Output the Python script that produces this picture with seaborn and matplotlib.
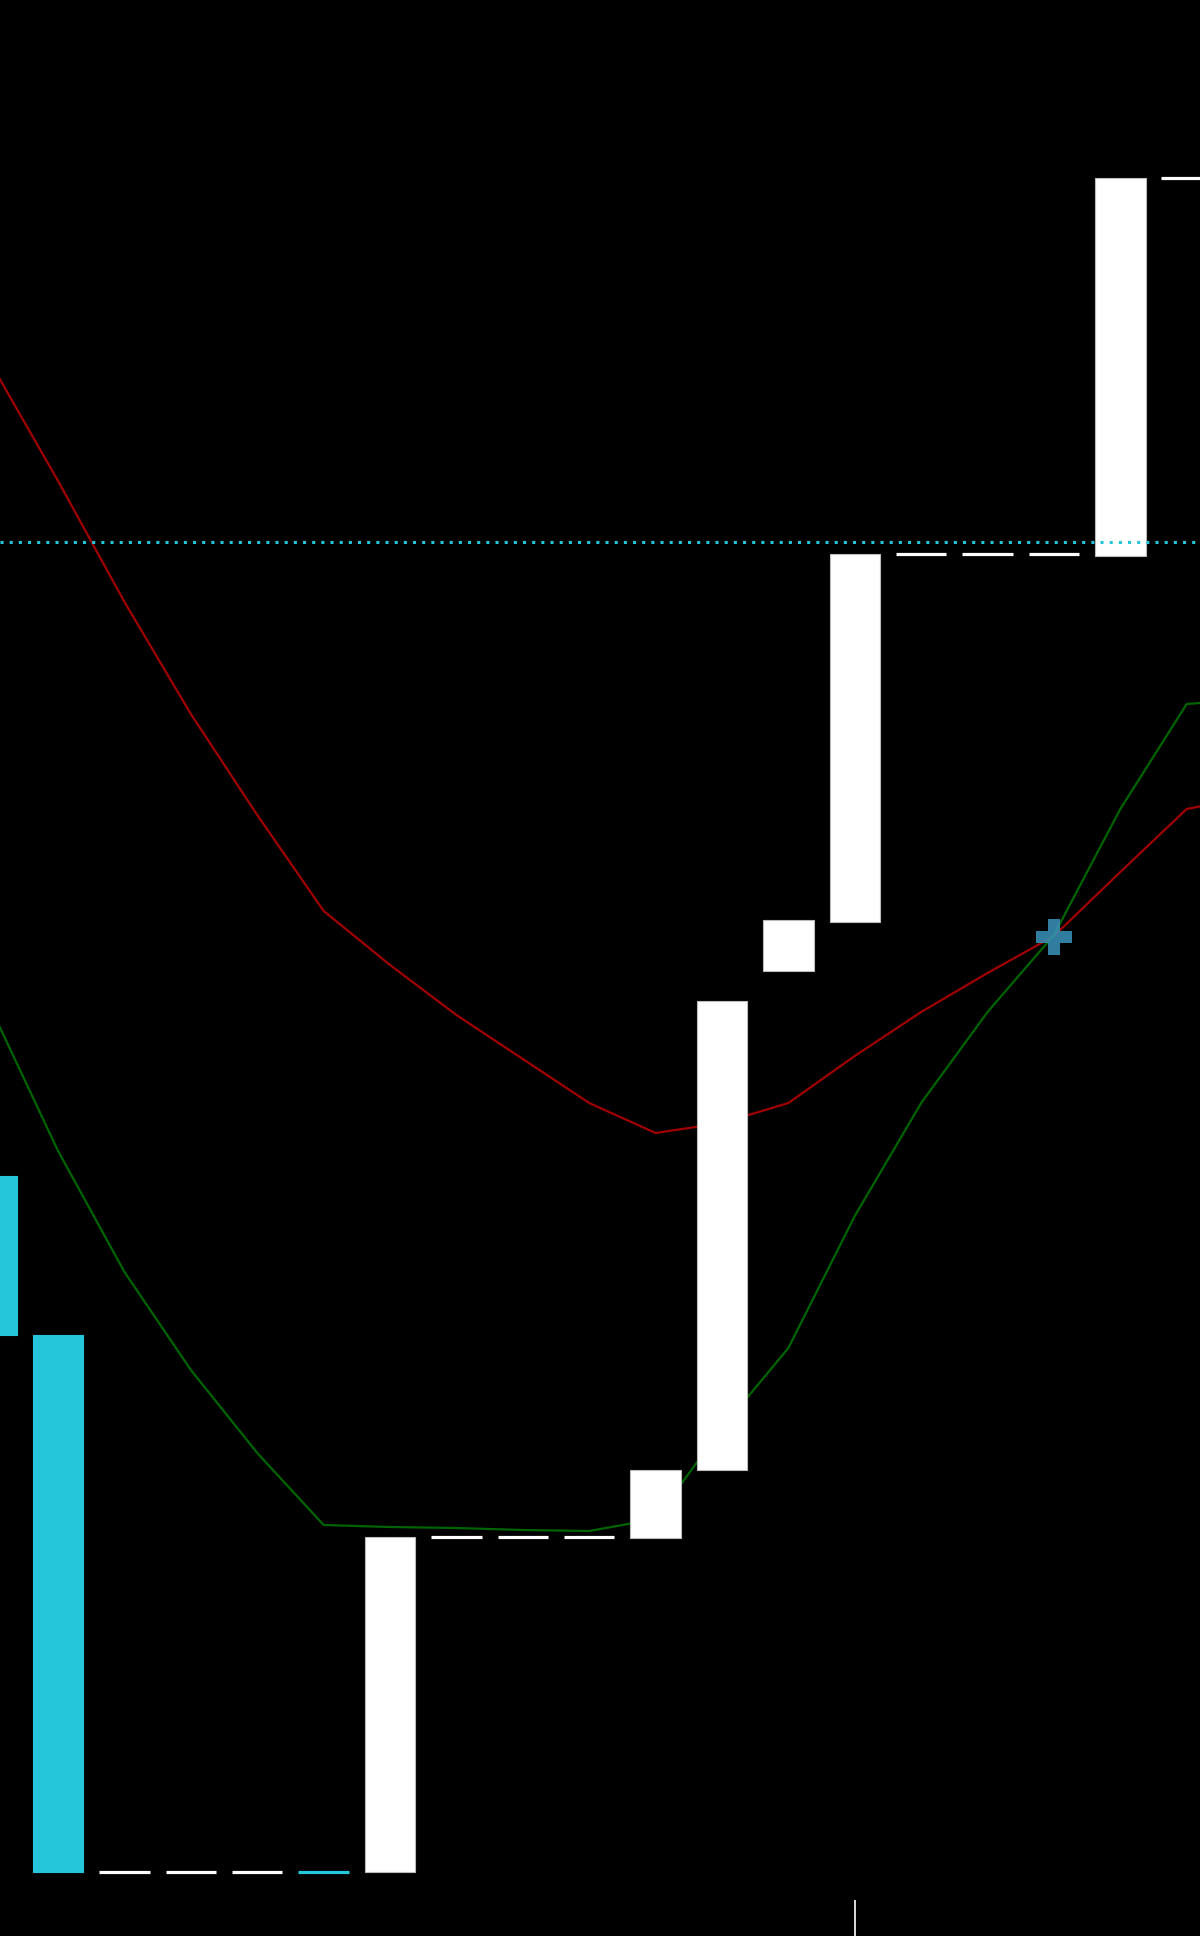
import matplotlib
matplotlib.use("Agg")
import matplotlib.pyplot as plt
import seaborn as sns
import numpy as np
import pandas as pd

# ---- data ----
bar_idx = list(range(19))
opens  = [76.0, 60.1, 6.4, 6.4, 6.4, 6.4, 6.4, 39.9, 39.9, 39.9, 39.8, 46.6, 96.5, 101.4, 138.2, 138.2, 138.2, 138.0, 175.8]
closes = [60.1, 6.4, 6.4, 6.4, 6.4, 6.4, 39.9, 39.9, 39.9, 39.9, 46.6, 93.5, 101.6, 138.2, 138.2, 138.2, 138.2, 175.8, 175.8]
bar_kind = ['down', 'down', 'up', 'up', 'up', 'down', 'up', 'up', 'up', 'up', 'up', 'up', 'up', 'up', 'up', 'up', 'up', 'up', 'up']

line_idx = list(range(20))
red_ma   = [157.1, 145.5, 133.4, 122.2, 112.1, 102.5, 97.1, 92.1, 87.7, 83.3, 80.3, 81.3, 83.3, 88.0, 92.4, 96.3, 100.0, 106.4, 112.7, 114.0]
green_ma = [92.6, 78.5, 66.4, 56.6, 48.3, 41.1, 40.9, 40.8, 40.6, 40.5, 41.7, 50.8, 58.8, 72.0, 83.3, 92.4, 100.1, 112.7, 123.2, 123.7]

ref_level = 139.4
signal_x = [16]
signal_y = [99.9]
tick_pos = [13]

# ---- style ----
sns.set_theme(style="dark", rc={"axes.facecolor": "black", "figure.facecolor": "black"})

CYAN = "#26c6da"
WHITE = "#ffffff"
BAR_W = 0.76

fig = plt.figure(figsize=(12, 19.36), dpi=100)
ax = fig.add_axes([0, 0, 1, 1])
ax.set_facecolor("black")

df_lines = pd.DataFrame({"i": line_idx, "red": red_ma, "green": green_ma})
sns.lineplot(data=df_lines, x="i", y="red", color="#a00000", linewidth=1.6, ax=ax, zorder=1)
sns.lineplot(data=df_lines, x="i", y="green", color="#006400", linewidth=1.6, ax=ax, zorder=1)

for i, o, c, k in zip(bar_idx, opens, closes, bar_kind):
    col = CYAN if k == 'down' else WHITE
    if abs(o - c) < 1e-9:
        ax.hlines(o, i - BAR_W / 2, i + BAR_W / 2, colors=col, linewidth=2.3, zorder=2)
    else:
        lo = min(o, c)
        h = abs(o - c)
        ax.bar(i, h, bottom=lo, width=BAR_W, color=col,
               edgecolor=("#bbbbbb" if col == WHITE else col), linewidth=0.8, zorder=2)

ax.axhline(ref_level, color=CYAN, linewidth=2.2, linestyle=(0, (1, 2)), zorder=3)

sns.scatterplot(x=signal_x, y=signal_y, marker="P", s=700, color="#3a94bd",
                alpha=0.85, edgecolor="none", ax=ax, zorder=4)

ax.set_xlim(0.125, 18.2)
ax.set_ylim(0, 193.6)
ax.set_xticks(tick_pos)
ax.set_xticklabels([""])
ax.set_yticks([])
ax.tick_params(axis="x", bottom=True, direction="in", length=26, width=1.2, color="white")
ax.set_xlabel("")
ax.set_ylabel("")
for s in ax.spines.values():
    s.set_visible(False)
if ax.get_legend():
    ax.get_legend().remove()

fig.savefig("out.png", dpi=100, facecolor="black")
